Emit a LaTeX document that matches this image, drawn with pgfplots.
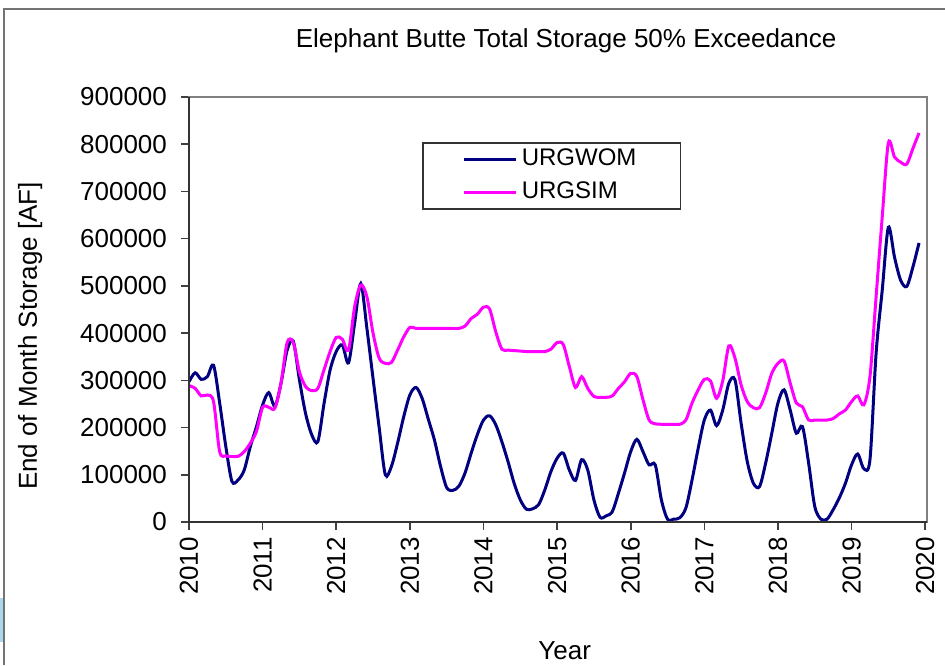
\documentclass[border=0pt]{standalone}
\usepackage{fontspec}
\setmainfont{Liberation Sans}
\usepackage{pgfplots}
\pgfplotsset{compat=1.18}
\usepackage{pgfplotstable}
\definecolor{wom}{RGB}{0,0,128}
\definecolor{sim}{RGB}{255,0,255}
\definecolor{patch}{RGB}{170,215,235}
\newcommand\cf{\fontsize{13pt}{15pt}\selectfont}
\newcommand\lf{\fontsize{12pt}{14pt}\selectfont}

\pgfplotstableread{
m val
0 297000
1 316000
2 302000
3 308000
4 332000
5 252000
6 160000
7 86000
8 89000
9 110000
10 160000
11 202000
12 248000
13 274000
14 245000
15 294000
16 364000
17 383000
18 301000
19 230000
20 185000
21 170000
22 250000
23 322000
24 361000
25 375000
26 337000
27 421000
28 505000
29 410000
30 304000
31 200000
32 100000
33 118000
34 167000
35 223000
36 269000
37 285000
38 262000
39 218000
40 174000
41 118000
42 73000
43 67000
44 76000
45 104000
46 146000
47 185000
48 216000
49 225000
50 206000
51 170000
52 128000
53 82000
54 47000
55 27000
56 28000
57 37000
58 68000
59 107000
60 135000
61 146000
62 110000
63 88000
64 132000
65 110000
66 47000
67 10000
68 13000
69 22000
70 61000
71 104000
72 149000
73 175000
74 149000
75 121000
76 121000
77 47000
78 6000
79 6000
80 9000
81 30000
82 89000
83 156000
84 216000
85 237000
86 204000
87 237000
88 294000
89 301000
90 209000
91 128000
92 82000
93 75000
94 125000
95 188000
96 252000
97 280000
98 237000
99 188000
100 202000
101 125000
102 33000
103 6000
104 6000
105 26000
106 51000
107 82000
108 121000
109 144000
110 113000
111 132000
112 357000
113 491000
114 624000
115 561000
116 512000
117 499000
118 540000
119 591000
}\urgwom

\pgfplotstableread{
m val
0 289000
1 283000
2 267000
3 269000
4 255000
5 149000
6 140000
7 139000
8 139000
9 149000
10 167000
11 192000
12 243000
13 243000
14 241000
15 294000
16 380000
17 380000
18 318000
19 287000
20 278000
21 283000
22 322000
23 361000
24 391000
25 387000
26 364000
27 456000
28 502000
29 477000
30 400000
31 347000
32 336000
33 338000
34 364000
35 392000
36 412000
37 410000
38 410000
39 410000
40 410000
41 410000
42 410000
43 410000
44 410000
45 415000
46 431000
47 440000
48 455000
49 451000
50 403000
51 366000
52 364000
53 363000
54 362000
55 361000
56 361000
57 361000
58 361000
59 366000
60 380000
61 376000
62 329000
63 285000
64 308000
65 283000
66 266000
67 264000
68 264000
69 267000
70 283000
71 297000
72 315000
73 308000
74 259000
75 216000
76 208000
77 207000
78 207000
79 207000
80 207000
81 216000
82 252000
83 280000
84 302000
85 299000
86 262000
87 299000
88 373000
89 347000
90 290000
91 255000
92 242000
93 242000
94 273000
95 315000
96 336000
97 341000
98 294000
99 252000
100 244000
101 216000
102 216000
103 216000
104 216000
105 219000
106 229000
107 237000
108 255000
109 267000
110 248000
111 308000
112 477000
113 646000
114 803000
115 773000
116 762000
117 758000
118 791000
119 824000
}\urgsim

\begin{document}
\begin{tikzpicture}
\useasboundingbox (-94.5pt,-71.5pt) rectangle (378pt,261pt);
\fill[white] (-94.5pt,-71.5pt) rectangle (378pt,261pt);
\draw[black!55, line width=0.8pt] (-92.5pt,-71.5pt) -- (-92.5pt,256.5pt) -- (378pt,256.5pt);
\fill[patch] (-94.5pt,-60pt) rectangle (-92.9pt,-38pt);
\begin{axis}[
  at={(0pt,0pt)}, anchor=south west,
  scale only axis, width=369pt, height=212.5pt,
  xmin=0, xmax=120.3, ymin=0, ymax=900000,
  xtick={0,12,24,36,48,60,72,84,96,108,120},
  xticklabels={2010,2011,2012,2013,2014,2015,2016,2017,2018,2019,2020},
  ytick={0,100000,200000,300000,400000,500000,600000,700000,800000,900000},
  yticklabels={0,100000,200000,300000,400000,500000,600000,700000,800000,900000},
  scaled y ticks=false, scaled x ticks=false,
  tick align=outside, major tick length=4pt,
  xtick pos=lower, ytick pos=left,
  tick style={black!75, line width=0.8pt},
  axis line style={black!50, line width=1pt},
  ticklabel style={font=\cf},
  xticklabel style={rotate=90, anchor=east},
  yticklabel style={anchor=east, xshift=-3.5pt},
  title={Elephant Butte Total Storage 50\% Exceedance},
  title style={font=\cf, at={(axis description cs:0.511,1)}, anchor=base, yshift=19pt},
  xlabel={Year},
  xlabel style={font=\cf, at={(axis description cs:0.509,0)}, anchor=base, yshift=-68.5pt},
  ylabel={End of Month Storage [AF]},
  ylabel style={font=\cf, at={(axis description cs:-0.2154,0.4376)}, anchor=center},
  legend style={at={(0.3157,0.894)}, anchor=north west, draw=black!80, line width=0.8pt,
    font=\lf, inner xsep=20pt, inner ysep=0.5pt, row sep=1pt,
    nodes={inner sep=2pt, text height=9pt, text depth=2.5pt}},
  legend cell align=left,
  legend image code/.code={\draw[#1] (0pt,0pt) -- (26pt,0pt);},
]
\addplot[wom, line width=1.5pt, smooth, tension=0.5] table[x=m, y=val] {\urgwom};
\addlegendentry{URGWOM}
\addplot[sim, line width=1.5pt, smooth, tension=0.5] table[x=m, y=val] {\urgsim};
\addlegendentry{URGSIM}
\end{axis}
\draw[black!80, line width=1pt] (0pt,212.5pt) -- (0pt,0pt) -- (369pt,0pt);
\end{tikzpicture}
\end{document}
